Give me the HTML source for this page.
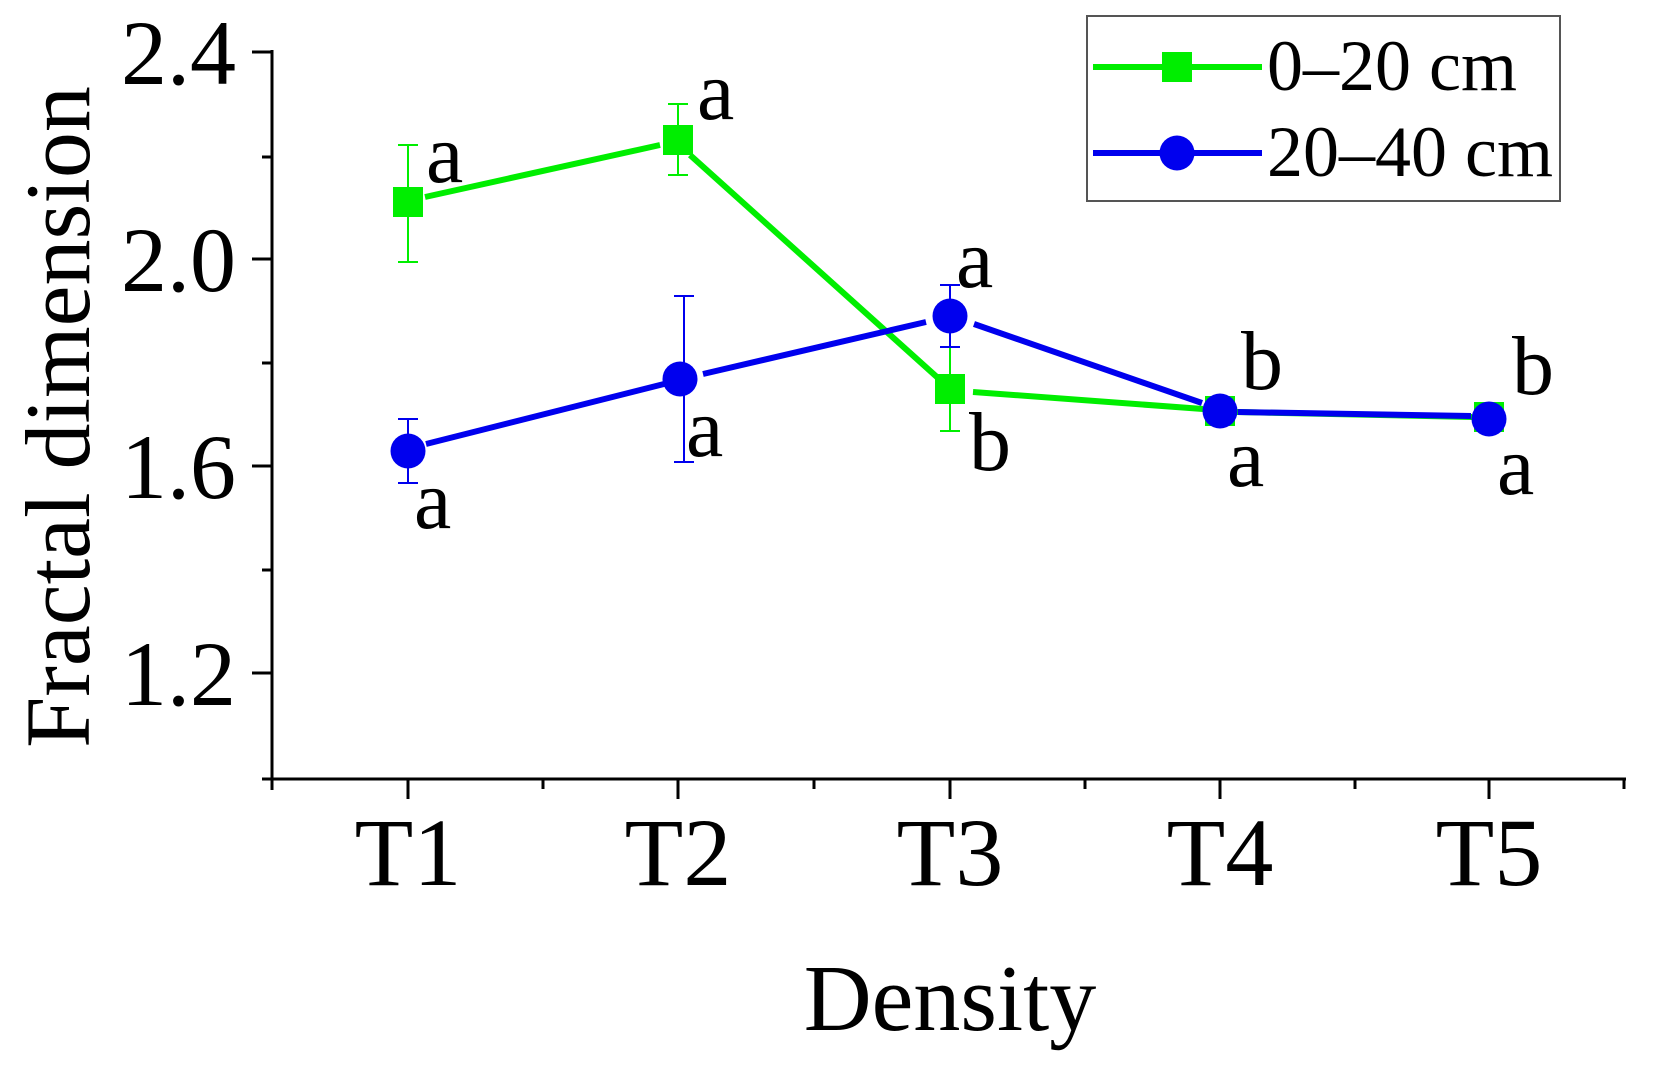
<!DOCTYPE html>
<html><head><meta charset="utf-8"><style>body{margin:0;background:#fff}svg{display:block}</style></head><body>
<svg width="1658" height="1068" viewBox="0 0 1658 1068" xmlns="http://www.w3.org/2000/svg" font-family="Liberation Serif, serif">
<rect width="1658" height="1068" fill="#fff"/>
<g stroke="#000" stroke-width="3" fill="none">
<line x1="272" y1="50" x2="272" y2="790"/>
<line x1="262" y1="779" x2="1626" y2="779"/>
<line x1="252" y1="52" x2="272" y2="52"/><line x1="262" y1="157" x2="272" y2="157"/>
<line x1="252" y1="259" x2="272" y2="259"/><line x1="262" y1="363" x2="272" y2="363"/>
<line x1="252" y1="466" x2="272" y2="466"/><line x1="262" y1="570" x2="272" y2="570"/>
<line x1="252" y1="673" x2="272" y2="673"/>
<line x1="408" y1="779" x2="408" y2="799"/><line x1="678" y1="779" x2="678" y2="799"/>
<line x1="950" y1="779" x2="950" y2="799"/><line x1="1220" y1="779" x2="1220" y2="799"/>
<line x1="1489" y1="779" x2="1489" y2="799"/>
<line x1="543" y1="779" x2="543" y2="789"/><line x1="814" y1="779" x2="814" y2="789"/>
<line x1="1085" y1="779" x2="1085" y2="789"/><line x1="1355" y1="779" x2="1355" y2="789"/>
<line x1="1624" y1="779" x2="1624" y2="789"/>
</g>
<g font-size="92" text-anchor="end" fill="#000">
<text x="236" y="84">2.4</text><text x="236" y="291">2.0</text>
<text x="236" y="498">1.6</text><text x="236" y="705">1.2</text>
</g>
<g font-size="96" text-anchor="middle" fill="#000">
<text x="408" y="885">T1</text><text x="678" y="885">T2</text><text x="950" y="885">T3</text>
<text x="1220" y="885">T4</text><text x="1489" y="885">T5</text>
<text x="950" y="1030" font-size="94">Density</text>
<text transform="translate(89,417) rotate(-90)" font-size="92">Fractal dimension</text>
</g>
<g stroke="#00ee00" stroke-width="2">
<line x1="408" y1="145" x2="408" y2="262"/><line x1="398" y1="145" x2="418" y2="145"/><line x1="398" y1="262" x2="418" y2="262"/>
<line x1="678" y1="104" x2="678" y2="175"/><line x1="668" y1="104" x2="688" y2="104"/><line x1="668" y1="175" x2="688" y2="175"/>
<line x1="950" y1="347" x2="950" y2="431"/><line x1="940" y1="431" x2="960" y2="431"/>
</g>
<g stroke="#0000ee" stroke-width="2">
<line x1="408" y1="419" x2="408" y2="483"/><line x1="398" y1="419" x2="418" y2="419"/><line x1="398" y1="483" x2="418" y2="483"/>
<line x1="684" y1="296" x2="684" y2="462"/><line x1="674" y1="296" x2="694" y2="296"/><line x1="674" y1="462" x2="694" y2="462"/>
<line x1="950" y1="285" x2="950" y2="347"/><line x1="940" y1="285" x2="960" y2="285"/><line x1="940" y1="347" x2="960" y2="347"/>
</g>
<g stroke="#00ee00" stroke-width="6" fill="none">
<line x1="425" y1="197" x2="660" y2="145"/>
<line x1="690" y1="155" x2="938" y2="378"/>
<line x1="973" y1="392" x2="1203" y2="409"/>
<line x1="1237" y1="412" x2="1472" y2="417"/>
</g>
<g fill="#00ee00">
<rect x="393" y="187" width="30" height="30"/><rect x="663" y="125" width="30" height="30"/>
<rect x="935" y="374" width="30" height="30"/><rect x="1205" y="396" width="30" height="30"/>
<rect x="1474" y="402" width="30" height="30"/>
</g>
<g stroke="#0000ee" stroke-width="6" fill="none">
<line x1="426" y1="444" x2="664" y2="384"/>
<line x1="703" y1="374" x2="926" y2="322"/>
<line x1="974" y1="324" x2="1202" y2="403"/>
<line x1="1238" y1="412" x2="1471" y2="416"/>
</g>
<g fill="#0000ee">
<circle cx="408" cy="451" r="17.5"/><circle cx="680" cy="379" r="17.5"/>
<circle cx="950" cy="316" r="17.5"/><circle cx="1220" cy="411" r="17.5"/>
<circle cx="1489" cy="419" r="17.5"/>
</g>
<g font-size="84" fill="#000">
<text x="426" y="182">a</text><text x="697" y="119">a</text>
<text x="414" y="528">a</text><text x="686" y="456">a</text>
<text x="956" y="287">a</text><text x="969" y="470">b</text>
<text x="1241" y="389">b</text><text x="1227" y="486">a</text>
<text x="1512" y="394">b</text><text x="1497" y="494">a</text>
</g>
<rect x="1087" y="16" width="473" height="185" fill="#fff" stroke="#555" stroke-width="2"/>
<line x1="1093" y1="67" x2="1262" y2="67" stroke="#00ee00" stroke-width="6"/>
<rect x="1162" y="52" width="30" height="30" fill="#00ee00"/>
<line x1="1093" y1="153" x2="1262" y2="153" stroke="#0000ee" stroke-width="6"/>
<circle cx="1177" cy="153" r="17.5" fill="#0000ee"/>
<g font-size="72" fill="#000">
<text x="1267" y="90">0–20 cm</text><text x="1267" y="176">20–40 cm</text>
</g>
</svg>
</body></html>
